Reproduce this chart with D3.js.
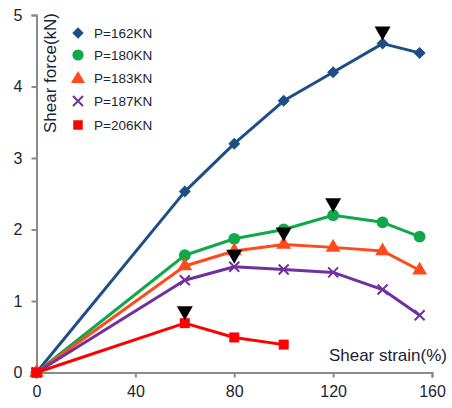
<!DOCTYPE html>
<html><head><meta charset="utf-8">
<script src="https://cdn.jsdelivr.net/npm/d3@7"></script>
<style>body{margin:0;background:#fff}svg{display:block}text{font-family:Arial,"Liberation Sans",sans-serif}</style>
</head><body>
<script>
const strain = [0, 60, 80, 100, 120, 140, 155];
const seriesNames = ["P=162KN", "P=180KN", "P=183KN", "P=187KN", "P=206KN"];
const s162 = [0, 2.53, 3.2, 3.8, 4.2, 4.6, 4.47];
const s180 = [0, 1.64, 1.87, 2.0, 2.2, 2.1, 1.9];
const s183 = [0, 1.49, 1.70, 1.79, 1.75, 1.70, 1.43];
const s187 = [0, 1.29, 1.48, 1.44, 1.40, 1.16, 0.80];
const s206 = [0, 0.69, 0.49, 0.39];
const peakIndex = [5, 4, 3, 2, 1];
const xTicks = [0, 40, 80, 120, 160];
const yTicks = [0, 1, 2, 3, 4, 5];

const colors = ["#1F4E86", "#10A84A", "#FF4A1C", "#7030A0", "#FF0000"];
const shapes = ["diamond", "circle", "triangle", "x", "square"];
const values = [s162, s180, s183, s187, s206];

const W = 452, H = 408;
const svg = d3.select("body").append("svg").attr("width", W).attr("height", H);
const x = d3.scaleLinear().domain([0, 160]).range([36.5, 432]);
const y = d3.scaleLinear().domain([0, 5]).range([372.5, 15]);

const axisColor = "#8a8a8a", textColor = "#1c2333";

// axes
const xa = svg.append("g").attr("transform", `translate(0,${y(0)})`)
  .call(d3.axisBottom(x).tickValues(xTicks).tickFormat(d3.format("d")).tickSize(5).tickPadding(8));
const ya = svg.append("g").attr("transform", `translate(${x(0)},0)`)
  .call(d3.axisLeft(y).tickValues(yTicks).tickFormat(d3.format("d")).tickSize(5).tickPadding(9));
[xa, ya].forEach(a => {
  a.selectAll("path,line").attr("stroke", axisColor).attr("stroke-width", 2);
  a.selectAll("text").attr("fill", textColor).attr("font-size", 16)
    .attr("font-family", "Arial, 'Liberation Sans', sans-serif");
});

// axis titles
svg.append("text").attr("x", 447).attr("y", 361).attr("text-anchor", "end")
  .attr("font-size", 17).attr("fill", textColor).text("Shear strain(%)");
svg.append("text").attr("transform", "translate(56,13) rotate(-90)")
  .attr("text-anchor", "end").attr("font-size", 17).attr("fill", textColor)
  .text("Shear force(kN)");

function marker(g, shape, color, cx, cy, sc) {
  sc = sc || 1;
  if (shape === "x") {
    const d = 5 * sc;
    g.append("path").attr("d", `M${cx-d},${cy-d}L${cx+d},${cy+d}M${cx-d},${cy+d}L${cx+d},${cy-d}`)
      .attr("stroke", color).attr("stroke-width", 2).attr("fill", "none");
    return;
  }
  if (shape === "diamond") {
    const r = 6 * sc;
    g.append("path").attr("d", `M${cx},${cy-r}L${cx+r},${cy}L${cx},${cy+r}L${cx-r},${cy}Z`).attr("fill", color);
    return;
  }
  const sym = {circle: d3.symbolCircle, triangle: d3.symbolTriangle, square: d3.symbolSquare}[shape];
  const size = {circle: 110, triangle: 95, square: 100}[shape] * sc * sc;
  g.append("path").attr("d", d3.symbol().type(sym).size(size)())
    .attr("transform", `translate(${cx},${cy})`).attr("fill", color);
}

const line = d3.line().x(d => x(d[0])).y(d => y(d[1]));
values.forEach((vals, i) => {
  const pts = vals.map((v, j) => [strain[j], v]);
  const g = svg.append("g");
  g.append("path").datum(pts).attr("d", line).attr("fill", "none")
    .attr("stroke", colors[i]).attr("stroke-width", 3).attr("stroke-linejoin", "round");
  pts.forEach(p => marker(g, shapes[i], colors[i], x(p[0]), y(p[1])));
});

// peak indicators
values.forEach((vals, i) => {
  const k = peakIndex[i];
  const cx = x(strain[k]), cy = y(vals[k]);
  svg.append("path")
    .attr("d", `M${cx-8},${cy-17}L${cx+8},${cy-17}L${cx},${cy-3}Z`)
    .attr("fill", "#000");
});

// legend
const legY = [33, 55, 78, 101, 125];
seriesNames.forEach((n, i) => {
  const g = svg.append("g");
  marker(g, shapes[i], colors[i], 78, legY[i] + (shapes[i] === "triangle" ? 1 : 0), shapes[i] === "x" ? 1 : 0.95);
  g.append("text").attr("x", 94).attr("y", legY[i] + 5).attr("font-size", 13.5)
    .attr("fill", textColor).text(n);
});
</script>
</body></html>
